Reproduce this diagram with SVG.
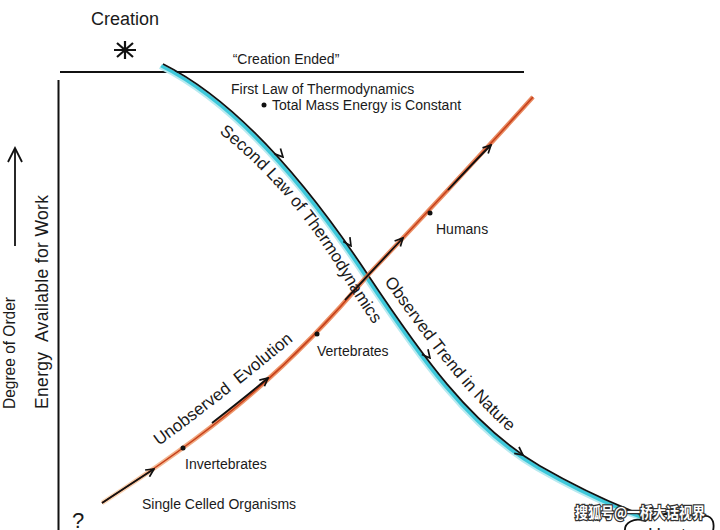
<svg xmlns="http://www.w3.org/2000/svg" xmlns:xlink="http://www.w3.org/1999/xlink" width="720" height="530" viewBox="0 0 720 530">
<style>
  text { font-family: "Liberation Sans", Arial, sans-serif; fill: #1a1a1a; }
  .lbl { font-size: 14px; }
  .big { font-size: 17px; }
  .ax { stroke: #111; stroke-width: 2; fill: none; }
  .blk { stroke: #111; stroke-width: 1.8; fill: none; }
  .arr { fill: none; stroke: none; marker-end: url(#chev); }
  .dot { fill: #111; }
</style>
<defs>
  <marker id="chev" viewBox="0 0 10 10" refX="9" refY="5" markerWidth="10" markerHeight="10" markerUnits="userSpaceOnUse" orient="auto">
    <path d="M1,1 L9,5 L1,9" fill="none" stroke="#111" stroke-width="1.7"/>
  </marker>
  <linearGradient id="orange" gradientUnits="userSpaceOnUse" x1="102" y1="503" x2="533" y2="97">
    <stop offset="0" stop-color="#f6cfa6"/>
    <stop offset="0.25" stop-color="#e8743a"/>
    <stop offset="1" stop-color="#e0602a"/>
  </linearGradient>
  <path id="desc" d="M163,64 C235,100 305,180 368,275 C420,353 470,425 540,466 C580,489 615,505 650,518"/>
  <path id="asc" d="M102,503 C200,440 280,380 368,275 C405,236 495,139 533,97"/>
  <path id="tp2nd" d="M219,133 C255,160 297,204 333,261 C347,284 362,310 388,344"/>
  <path id="tpObs" d="M384,282 C420,330 455,385 516,438"/>
  <path id="tpUno" d="M159,446 C200,416 250,377 306,330"/>
</defs>

<rect width="720" height="530" fill="#ffffff"/>

<g id="axes">
  <line class="ax" x1="60" y1="72" x2="524" y2="72"/>
  <line class="ax" x1="58.5" y1="80" x2="58.5" y2="530"/>
</g>

<g id="creation">
  <text x="125" y="25" font-size="18" text-anchor="middle">Creation</text>
  <path d="M125,41 V59 M114,50 H136 M117,43 L133,57 M133,43 L117,57" stroke="#111" stroke-width="2.2" fill="none"/>
</g>

<g id="creation-ended">
  <text class="lbl" x="286" y="64" text-anchor="middle">“Creation Ended”</text>
</g>

<g id="first-law">
  <text class="lbl" x="231" y="94">First Law of Thermodynamics</text>
  <circle class="dot" cx="264" cy="105" r="2.5"/>
  <text class="lbl" x="272" y="110">Total Mass Energy is Constant</text>
</g>

<g id="y-axis-labels">
  <text transform="translate(15,409) rotate(-90)" font-size="16.5" textLength="112" lengthAdjust="spacingAndGlyphs">Degree of Order</text>
  <line x1="15" y1="246" x2="15" y2="149" stroke="#111" stroke-width="1.8"/>
  <path d="M8,162 L15,148 L22,162" fill="none" stroke="#111" stroke-width="1.8"/>
  <text transform="translate(48,409) rotate(-90)" font-size="17.5" textLength="214" lengthAdjust="spacing" xml:space="preserve">Energy  Available for Work</text>
</g>

<g id="connectors">
  <!-- descending (Second Law) curve with cyan shading -->
  <use xlink:href="#desc" href="#desc" transform="translate(-3.2,3.2)" fill="none" stroke="#b8eaf0" stroke-width="3.5"/>
  <use xlink:href="#desc" href="#desc" transform="translate(-1.8,1.8)" fill="none" stroke="#3ec8da" stroke-width="3.5"/>
  <use xlink:href="#desc" href="#desc" class="blk" stroke-width="2"/>
  <path class="arr" d="M277,150.6 L283,157"/>
  <path class="arr" d="M345,237 L351,246"/>
  <path class="arr" d="M424,350.8 L430,358"/>
  <path class="arr" d="M515,449 L523,455"/>

  <!-- ascending (evolution) line -->
  <use xlink:href="#asc" href="#asc" fill="none" stroke="url(#orange)" stroke-width="4.5" stroke-opacity="0.75"/>
  <use xlink:href="#asc" href="#asc" fill="none" stroke="#c7401a" stroke-width="1.6"/>
  <path class="blk" d="M102,503 C120,491 137,480 154,469" marker-end="url(#chev)"/>
  <path class="blk" d="M212,423 C230,409 249,394 268,378" marker-end="url(#chev)"/>
  <path class="blk" d="M345,300 C365,279 384,258 403,238" marker-end="url(#chev)"/>
  <path class="blk" d="M448,190 C462,175 476,160 491,145" marker-end="url(#chev)"/>
</g>

<g id="curve-labels">
  <text class="big"><textPath xlink:href="#tp2nd" href="#tp2nd">Second Law of Thermodynamics</textPath></text>
  <text class="big"><textPath xlink:href="#tpObs" href="#tpObs">Observed Trend in Nature</textPath></text>
  <text class="big" xml:space="preserve"><textPath xlink:href="#tpUno" href="#tpUno">Unobserved  Evolution</textPath></text>
</g>

<g id="humans">
  <circle class="dot" cx="430" cy="213" r="2.5"/>
  <text class="lbl" x="436" y="234">Humans</text>
</g>
<g id="vertebrates">
  <circle class="dot" cx="317" cy="334" r="2.5"/>
  <text class="lbl" x="317" y="356">Vertebrates</text>
</g>
<g id="invertebrates">
  <circle class="dot" cx="183" cy="448" r="2.5"/>
  <text class="lbl" x="185" y="469">Invertebrates</text>
</g>
<g id="single-celled">
  <text class="lbl" x="142" y="509">Single Celled Organisms</text>
</g>
<g id="question">
  <text x="72" y="528" font-size="22">?</text>
</g>

<g id="heat">
  <path d="M625,531 C624,523 634,517 645,521 C655,512 690,511 701,518 C706,513 716,517 713,531" fill="#fff" stroke="#111" stroke-width="1.8"/>
  <text x="648" y="541" font-size="18">Heat</text>
</g>

<g id="watermark">
  <text x="575" y="518" font-size="15" textLength="130" lengthAdjust="spacingAndGlyphs" style="font-family: 'Noto Sans CJK SC', sans-serif; fill: #ffffff; stroke: #333; stroke-width: 2.5; paint-order: stroke; font-weight: bold;">搜狐号@一桥大话视界</text>
</g>
</svg>
